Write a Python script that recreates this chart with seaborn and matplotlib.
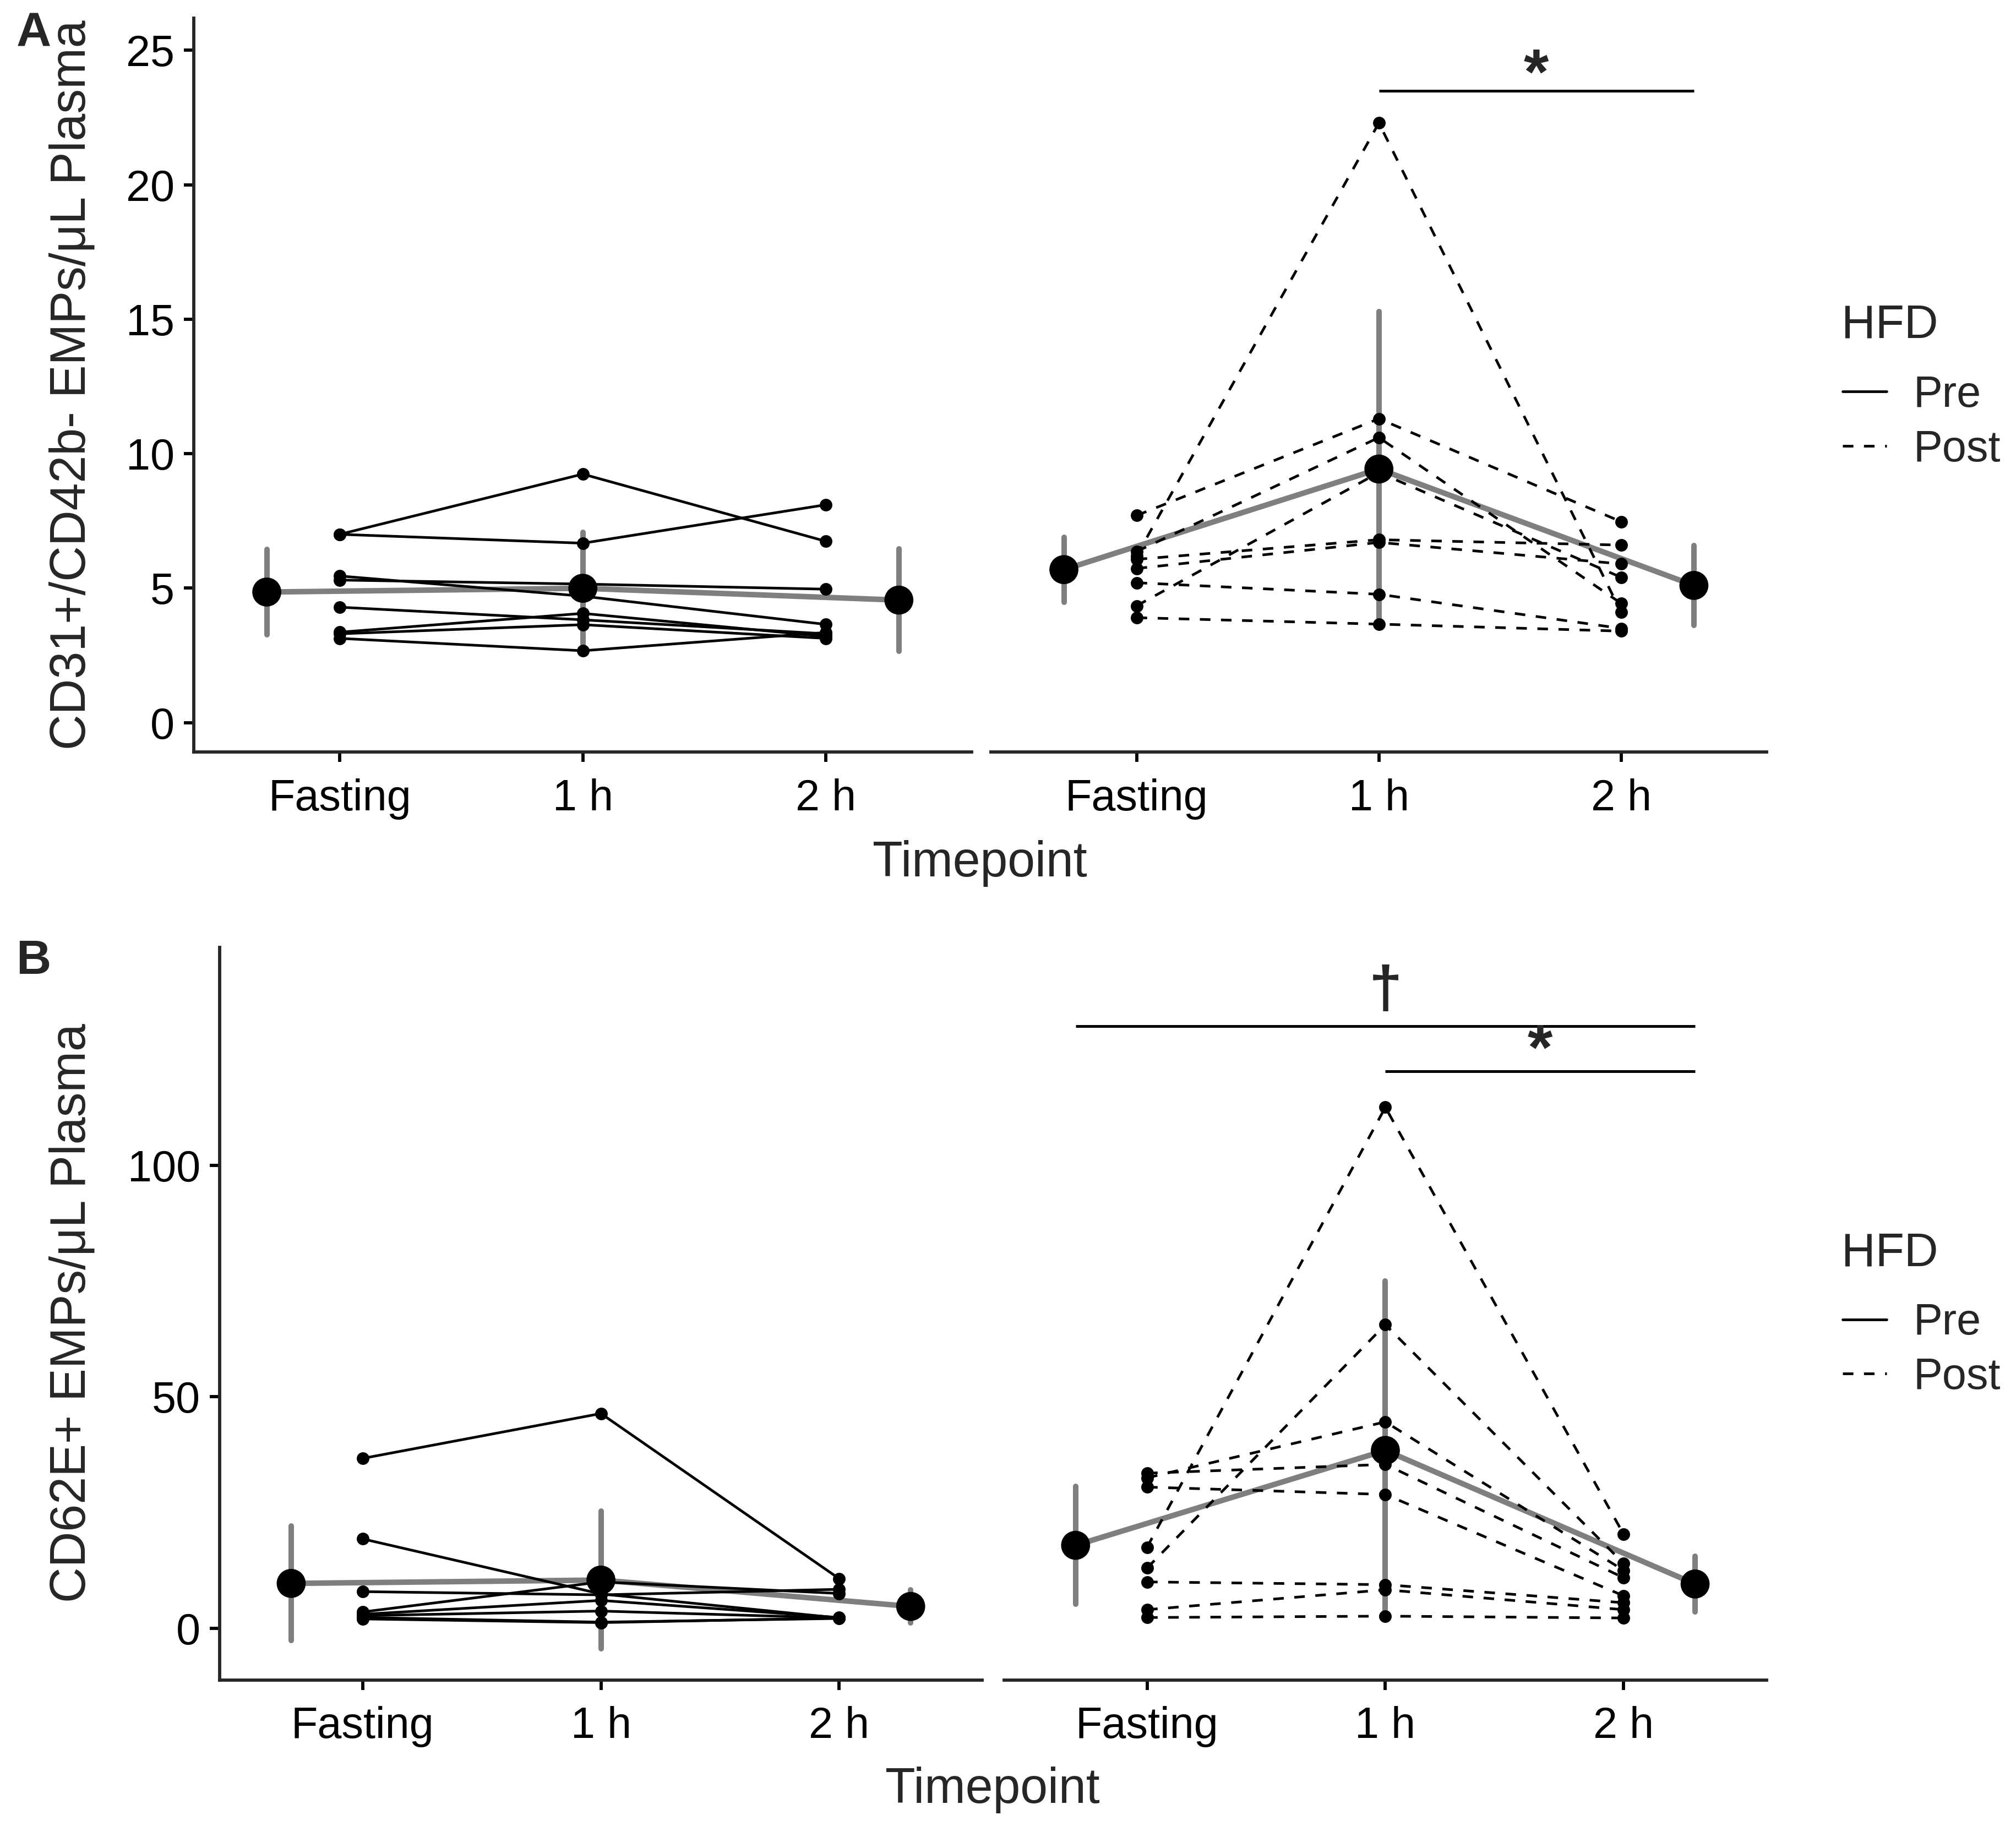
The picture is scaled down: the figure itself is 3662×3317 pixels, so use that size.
import numpy as np
import pandas as pd
import matplotlib
matplotlib.use("Agg")
import matplotlib.pyplot as plt
import seaborn as sns
from matplotlib.lines import Line2D

# ---------------- data ----------------
timepoints = ["Fasting", "1 h", "2 h"]
tick_pos = [0, 1, 2]
summary_pos = [-0.3, 1.0, 2.3]

# Panel A: CD31+/CD42b- EMPs (subjects x [Fasting, 1 h, 2 h])
a_pre = [
    [7.00, 9.24, 6.74],
    [7.00, 6.67, 8.10],
    [5.30, 5.15, 4.96],
    [5.45, 4.70, 3.65],
    [4.29, 3.82, 3.30],
    [3.36, 4.06, 3.20],
    [3.30, 3.64, 3.13],
    [3.13, 2.67, 3.35],
]
a_post = [
    [6.20, 22.30, 4.10],
    [7.70, 11.30, 7.47],
    [6.36, 10.60, 4.43],
    [4.34, 9.30, 5.40],
    [6.07, 6.80, 6.60],
    [5.73, 6.70, 5.90],
    [5.20, 4.77, 3.50],
    [3.90, 3.66, 3.40],
]
# Panel B: CD62E+ EMPs
b_pre = [
    [36.7, 46.4, 10.7],
    [19.3, 7.4, 2.2],
    [7.9, 7.2, 8.4],
    [3.5, 10.0, 7.5],
    [3.0, 6.0, 2.3],
    [2.7, 3.7, 2.2],
    [2.3, 1.3, 2.1],
    [2.0, 1.2, 2.2],
]
b_post = [
    [33.5, 35.4, 10.9],
    [32.5, 44.6, 12.5],
    [30.5, 28.9, 7.0],
    [17.5, 112.6, 20.3],
    [13.0, 65.6, 14.0],
    [10.0, 9.4, 5.5],
    [4.0, 8.3, 4.0],
    [2.3, 2.6, 2.2],
]

ylab_a = "CD31+/CD42b- EMPs/\u03bcL Plasma"
ylab_b = "CD62E+ EMPs/\u03bcL Plasma"
a_yticks = [0, 5, 10, 15, 20, 25]
b_yticks = [0, 50, 100]
legend_labels = ["Pre", "Post"]


def long_df(mat, hfd):
    rows = []
    for s, vals in enumerate(mat):
        for t, v in enumerate(vals):
            rows.append(dict(subject=f"{hfd}{s}", HFD=hfd, tp=timepoints[t],
                             x=tick_pos[t], xs=summary_pos[t], value=v))
    return pd.DataFrame(rows)


# ---------------- style ----------------
sns.set_style("ticks")
plt.rcParams["font.family"] = ["Liberation Sans", "DejaVu Sans"]
plt.rcParams["axes.linewidth"] = 1.4

W, H = 1560.0, 1413.0  # reference layout units
fig = plt.figure(figsize=(3662 / 300, 3317 / 300), dpi=300)


def fx(x):
    return x / W


def fy(y):
    return 1 - y / H


def make_ax(l, r, t, b):
    return fig.add_axes([fx(l), fy(b), fx(r) - fx(l), fy(t) - fy(b)])


GRAY = "#7f7f7f"


def draw_facet(ax, df, dashed, ylim, yticks, first):
    # group summary (mean +/- SD) in gray
    sns.lineplot(data=df, x="xs", y="value", estimator="mean", errorbar="sd",
                 err_style="bars", color=GRAY, linewidth=2.4,
                 err_kws={"elinewidth": 2.4, "capsize": 0}, ax=ax, legend=False)
    # individual subjects
    ls = (0, (4, 4)) if dashed else "-"
    sns.lineplot(data=df, x="x", y="value", units="subject", estimator=None,
                 color="black", linewidth=1.15, linestyle=ls, marker="o",
                 markersize=5.5, markeredgewidth=0, ax=ax, legend=False, zorder=3)
    # summary points
    means = df.groupby("xs", as_index=False)["value"].mean()
    sns.scatterplot(data=means, x="xs", y="value", color="black", s=160,
                    edgecolor="none", ax=ax, legend=False, zorder=4)
    ax.set_xlim(-0.6, 2.6)
    ax.set_ylim(*ylim)
    ax.set_xticks(tick_pos)
    ax.set_xticklabels(timepoints)
    ax.set_xlabel("")
    ax.set_ylabel("")
    ax.spines["top"].set_visible(False)
    ax.spines["right"].set_visible(False)
    ax.tick_params(axis="both", length=4.4, width=1.4, labelsize=19,
                   color="black", labelcolor="black")
    ax.tick_params(axis="x", pad=7)
    ax.tick_params(axis="y", pad=4)
    ax.set_yticks(yticks)
    if not first:
        ax.spines["left"].set_visible(False)
        ax.tick_params(axis="y", left=False, labelleft=False)
    ax.set_facecolor("white")


# ---------------- Panel A ----------------
axA1 = make_ax(150, 752, 14, 582)
axA2 = make_ax(767, 1367, 14, 582)
ylimA = (-1.1, 26.2)
draw_facet(axA1, long_df(a_pre, "Pre"), False, ylimA, a_yticks, True)
draw_facet(axA2, long_df(a_post, "Post"), True, ylimA, a_yticks, False)
axA2.plot([1.0, 2.3], [23.5, 23.5], color="black", lw=1.2, solid_capstyle="butt")
axA2.text(1.65, 24.0, "*", ha="center", va="center", fontsize=28, fontweight="bold")

# ---------------- Panel B ----------------
axB1 = make_ax(170, 760, 733, 1300)
axB2 = make_ax(777, 1367, 733, 1300)
ylimB = (-11.2, 147.2)
draw_facet(axB1, long_df(b_pre, "Pre"), False, ylimB, b_yticks, True)
draw_facet(axB2, long_df(b_post, "Post"), True, ylimB, b_yticks, False)
axB2.plot([-0.3, 2.3], [130.2, 130.2], color="black", lw=1.2, solid_capstyle="butt")
axB2.text(1.0, 137.5, "\u2020", ha="center", va="center", fontsize=26, fontweight="bold")
axB2.plot([1.0, 2.3], [120.4, 120.4], color="black", lw=1.2, solid_capstyle="butt")
axB2.text(1.65, 124.5, "*", ha="center", va="center", fontsize=28, fontweight="bold")

# ---------------- titles / labels ----------------
fig.text(fx(758), fy(668), "Timepoint", ha="center", va="center", fontsize=21.5)
fig.text(fx(768), fy(1385), "Timepoint", ha="center", va="center", fontsize=21.5)
fig.text(fx(56), fy(298), ylab_a, ha="center", va="center", rotation=90, fontsize=21.5)
fig.text(fx(56), fy(1016), ylab_b, ha="center", va="center", rotation=90, fontsize=21.5)
fig.text(fx(26), fy(26), "A", ha="center", va="center", fontsize=21, fontweight="bold")
fig.text(fx(26), fy(744), "B", ha="center", va="center", fontsize=21, fontweight="bold")

# ---------------- legends ----------------
handles = [Line2D([], [], color="black", lw=1.15, linestyle="-"),
           Line2D([], [], color="black", lw=1.15, linestyle=(0, (4, 4)))]
for ytitle, yitems in ((252, 327), (970, 1045)):
    fig.text(fx(1425), fy(ytitle), "HFD", ha="left", va="center", fontsize=20.5)
    fig.legend(handles, legend_labels, loc="center left",
               bbox_to_anchor=(fx(1426), fy(yitems)), frameon=False,
               fontsize=19, handlelength=1.0, handletextpad=0.62,
               labelspacing=0.3, borderpad=0, borderaxespad=0)

fig.savefig("out.png", dpi=300, facecolor="white")
